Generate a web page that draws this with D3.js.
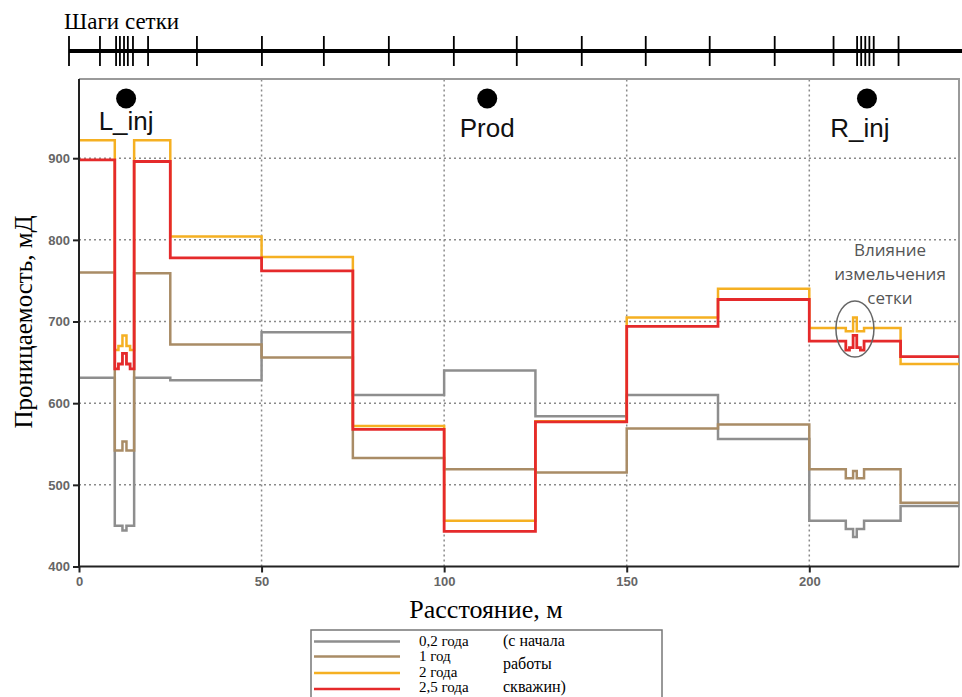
<!DOCTYPE html>
<html>
<head>
<meta charset="utf-8">
<script src="https://cdn.jsdelivr.net/npm/d3@7"></script>
<style>
    body { margin: 0; background: #fff; }
    svg { display: block; }
</style>
</head>
<body>
<svg id="chart" width="962" height="697"></svg>
<script>
// cell boundaries, m (fine cells round the wells)
var cellEdges = [0, 9.8, 10.8, 11.9, 13, 14, 15.1, 25, 50, 75, 100, 125, 150, 175, 200, 210, 211, 212, 213, 214, 215, 225, 241];

// permeability per cell, mD
var gray02 = [631, 450, 450, 444, 450, 450, 631, 628, 687, 610, 640, 584, 610, 556, 456, 446, 446, 436, 446, 446, 456, 474];
var brown1 = [760, 542, 542, 553, 542, 542, 759, 672, 656, 533, 519, 515, 569, 574, 519, 508, 508, 517, 508, 508, 519, 478];
var orange2 = [922, 665, 670, 683, 670, 665, 922, 804, 779, 572, 456, 578, 705, 740, 692, 688, 688, 705, 688, 688, 692, 648];
var red25 = [898, 642, 648, 661, 648, 642, 896, 778, 762, 568, 443, 577, 694, 727, 676, 665, 668, 683, 668, 665, 676, 657];

var seriesNames = ["0,2 года", "1 год", "2 года", "2,5 года"];
var seriesColors = ["#8e8e8e", "#a98c66", "#f5b022", "#e52a2b"];
var noteLines = ["(с начала", "работы", "скважин)"];

var wellNames = ["L_inj", "Prod", "R_inj"];
var wellX = [12.9, 111.8, 215.8];

var yTicks = [400, 500, 600, 700, 800, 900];
var xTicks = [0, 50, 100, 150, 200];

// schematic grid-step bar (its own units)
var barTicks = [0, 12.1, 18.4, 19.9, 21.5, 23, 25, 30.9, 50, 75.4, 99.6, 125, 150.4, 175, 200.4, 225.4, 250.4, 275.8, 298.8, 308, 309.6, 311.2, 312.8, 314.5, 324.2];
var barMax = 349;

var annotation = ["Влияние", "измельчения", "сетки"];

var svg = d3.select('#chart');

var x = d3.scaleLinear().domain([0, 241]).range([79, 959]);
var y = d3.scaleLinear().domain([400, 997]).range([566.5, 79]);

// top bar
var xb = d3.scaleLinear().domain([0, barMax]).range([69, 962]);
svg.append('text').attr('x', 64).attr('y', 29)
    .attr('font-family', 'Liberation Serif, serif').attr('font-size', 23)
    .text('Шаги сетки');
svg.append('line').attr('x1', xb(0)).attr('x2', xb(barMax)).attr('y1', 51).attr('y2', 51)
    .attr('stroke', '#000').attr('stroke-width', 4);
svg.selectAll('.barTick').data(barTicks).enter().append('line')
    .attr('class', 'barTick')
    .attr('x1', d => xb(d)).attr('x2', d => xb(d))
    .attr('y1', 36).attr('y2', 66)
    .attr('stroke', '#000').attr('stroke-width', 1.8);

// grid
var grid = svg.append('g');
grid.selectAll('.gy').data(yTicks.slice(1)).enter().append('line')
    .attr('x1', x(0)).attr('x2', x(241)).attr('y1', d => y(d)).attr('y2', d => y(d))
    .attr('stroke', '#8a8a8a').attr('stroke-width', 1.5).attr('stroke-dasharray', '2,3');
grid.selectAll('.gx').data(xTicks.slice(1)).enter().append('line')
    .attr('y1', y(400)).attr('y2', y(997)).attr('x1', d => x(d)).attr('x2', d => x(d))
    .attr('stroke', '#8a8a8a').attr('stroke-width', 1.5).attr('stroke-dasharray', '2,3');

// frame top / right
svg.append('path')
    .attr('d', 'M' + x(0) + ',' + y(997) + 'H' + x(241) + 'V' + y(400))
    .attr('fill', 'none').attr('stroke', '#9a9a9a').attr('stroke-width', 2);

// series
var allSeries = [gray02, brown1, orange2, red25];
var line = d3.line()
    .x(d => x(d[0]))
    .y(d => y(d[1]))
    .curve(d3.curveStepAfter);

allSeries.forEach(function (vals, i) {
    var pts = vals.map(function (v, k) { return [cellEdges[k], v]; });
    pts.push([cellEdges[cellEdges.length - 1], vals[vals.length - 1]]);
    svg.append('path')
        .attr('d', line(pts))
        .attr('fill', 'none')
        .attr('stroke', seriesColors[i])
        .attr('stroke-width', i == 3 ? 2.8 : 2.5);
});

// axes
var axisLeft = d3.axisLeft(y).tickValues(yTicks).tickSize(6).tickPadding(3);
var axisBottom = d3.axisBottom(x).tickValues(xTicks).tickSize(6).tickPadding(4);
var gl = svg.append('g').attr('transform', 'translate(' + x(0) + ',0)').call(axisLeft);
var gb = svg.append('g').attr('transform', 'translate(0,' + y(400) + ')').call(axisBottom);
[gl, gb].forEach(function (g) {
    g.select('.domain').attr('stroke', '#222').attr('stroke-width', 2);
    g.selectAll('.tick line').attr('stroke', '#222').attr('stroke-width', 2);
    g.selectAll('.tick text')
        .attr('font-family', 'Liberation Sans, Arial, sans-serif')
        .attr('font-size', 13).attr('font-weight', 'bold').attr('fill', '#666');
});
gb.select('.domain').attr('d', 'M' + x(0) + ',0H' + x(241));
gl.select('.domain').attr('d', 'M0,' + y(400) + 'V' + y(997));

// wells
var wellLabelY = [130, 137, 137];
svg.selectAll('.well').data(wellX).enter().append('circle')
    .attr('cx', d => x(d)).attr('cy', 98.5).attr('r', 10).attr('fill', '#000');
svg.selectAll('.wellLabel').data(wellNames).enter().append('text')
    .attr('x', (d, i) => x(wellX[i]) + (i == 2 ? -7 : 0))
    .attr('y', (d, i) => wellLabelY[i])
    .attr('text-anchor', 'middle')
    .attr('font-family', 'Liberation Sans, Arial, sans-serif')
    .attr('font-size', 26).attr('fill', '#111')
    .text(d => d);

// annotation
svg.append('ellipse').attr('cx', x(212.5)).attr('cy', 329).attr('rx', 19).attr('ry', 28)
    .attr('fill', 'none').attr('stroke', '#666').attr('stroke-width', 1.5);
svg.selectAll('.ann').data(annotation).enter().append('text')
    .attr('x', 890).attr('y', (d, i) => 256 + i * 24)
    .attr('text-anchor', 'middle')
    .attr('font-family', 'Open Sans, sans-serif').attr('font-size', 17).attr('fill', '#555')
    .text(d => d);

// axis titles
svg.append('text').attr('transform', 'translate(32,' + 322 + ') rotate(-90)')
    .attr('text-anchor', 'middle')
    .attr('font-family', 'Liberation Serif, serif').attr('font-size', 25)
    .text('Проницаемость, мД');
svg.append('text').attr('x', 486).attr('y', 618).attr('text-anchor', 'middle')
    .attr('font-family', 'Liberation Serif, serif').attr('font-size', 26)
    .text('Расстояние, м');

// legend
var lg = svg.append('g');
lg.append('rect').attr('x', 311).attr('y', 630).attr('width', 351).attr('height', 80)
    .attr('fill', '#fff').attr('stroke', '#777').attr('stroke-width', 1.5);
var legY = [641.5, 656.5, 673, 689];
var legTextY = [646, 661, 677, 692];
lg.selectAll('.ll').data(seriesNames).enter().append('line')
    .attr('x1', 314).attr('x2', 400)
    .attr('y1', (d, i) => legY[i]).attr('y2', (d, i) => legY[i])
    .attr('stroke', (d, i) => seriesColors[i]).attr('stroke-width', 2.5);
lg.selectAll('.lt').data(seriesNames).enter().append('text')
    .attr('x', 419).attr('y', (d, i) => legTextY[i])
    .attr('font-family', 'Liberation Serif, serif').attr('font-size', 15)
    .text(d => d);
lg.selectAll('.ln').data(noteLines).enter().append('text')
    .attr('x', 503).attr('y', (d, i) => 646 + i * 23)
    .attr('font-family', 'Liberation Serif, serif').attr('font-size', 16)
    .text(d => d);
</script>
</body>
</html>
